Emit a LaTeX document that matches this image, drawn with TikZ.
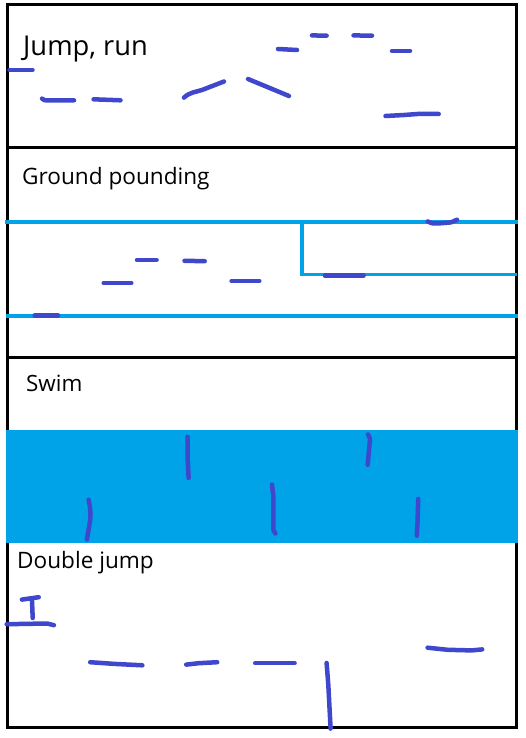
\documentclass[tikz,border=0pt]{standalone}
\usepackage{fontspec}
\setmainfont{Open Sans}
\definecolor{ink}{RGB}{63,72,204}
\definecolor{aqua}{RGB}{0,162,232}
\tikzset{
  pen/.style={draw=ink, line width=4.5pt, line cap=round, line join=round},
  wall/.style={draw=aqua, line width=3.3pt},
  frame/.style={draw=black, line width=3pt},
  lbl/.style={anchor=base west, inner sep=0pt, text=black},
}
\begin{document}
\begin{tikzpicture}[x=1pt,y=-1pt]
\useasboundingbox (0,0) rectangle (526,738);
% frame and dividers
\draw[frame] (7,5) rectangle (516,727);
\draw[frame] (7,148) -- (516,148);
\draw[frame] (7,357) -- (516,357);
% water
\fill[aqua] (5.8,429.5) rectangle (518,543);
% ground pounding walls
\draw[wall] (5,222) -- (518,222);
\draw[wall] (302,222) -- (302,274.5) -- (517,274.5);
\draw[wall] (6,316) -- (518,316);
% labels
\node[lbl, font=\fontsize{27.3}{30}\selectfont] (t1) at (23,56) {Jump, run};
\node[lbl, font=\fontsize{22.6}{25}\selectfont] (t2) at (22,185) {Ground pounding};
\node[lbl, font=\fontsize{22.4}{25}\selectfont] (t3) at (26,391) {Swim};
\node[lbl, font=\fontsize{22.6}{25}\selectfont] (t4) at (17,568.5) {Double jump};
% section 1 strokes
\draw[pen] (9.5,70) -- (32.5,70);
\draw[pen] (42,98.6) .. controls (44,100.3) .. (48,100.3) -- (74,100.3);
\draw[pen] (93.6,99.3) -- (120.5,100.3);
\draw[pen] (184,97.6) .. controls (190,92) and (196,92) .. (202,90) -- (224,81.5);
\draw[pen] (248,79) -- (289,96);
\draw[pen] (278,49) -- (297,50);
\draw[pen] (312,35.4) -- (326.6,35.7);
\draw[pen] (353.5,35.4) -- (372,35.7);
\draw[pen] (392,51) -- (410,51);
\draw[pen] (385.5,116) -- (404,115) -- (417.5,114) -- (438.7,114);
% section 2 strokes
\draw[pen] (34.7,315.4) -- (58,315.4);
\draw[pen] (103.7,283) -- (131.3,283);
\draw[pen] (137,259.8) -- (156.6,259.8);
\draw[pen] (184.5,260.8) -- (204.7,261.2);
\draw[pen] (231.6,281) -- (259.3,281);
\draw[pen] (325,275.6) -- (363.6,275.6);
\draw[pen] (427.6,221.4) .. controls (432,223.5) .. (437.7,223.5) -- (451,222.4) -- (457,219.7);
% section 3 strokes
\draw[pen] (187.5,436.8) -- (187.5,456) -- (188.6,477.9);
\draw[pen] (368,434.5) .. controls (370,438) .. (369.7,442.5) -- (367.7,464.8);
\draw[pen] (88.6,499.8) .. controls (90.5,510) .. (90.2,520) -- (86.9,539.5);
\draw[pen] (272,484.6) -- (273.4,496.4) -- (273.4,530) -- (275.4,533.5);
\draw[pen] (418.2,499) -- (417.5,523) -- (416.8,535.8);
% section 4 strokes
\draw[pen] (21.9,599.6) -- (38.7,597.2);
\draw[pen] (32,600.6) -- (32.7,618);
\draw[pen] (6.7,624.2) -- (47.1,623.5) -- (53.9,625.2);
\draw[pen] (90.2,662.2) -- (114.5,663.9) -- (142.4,665.3);
\draw[pen] (186.2,664.6) -- (198.7,663.2) -- (217.2,662.2);
\draw[pen] (255.2,663.2) -- (294.6,663.2);
\draw[pen] (326.6,662.9) -- (328.3,684.8) -- (330.6,728.6);
\draw[pen] (427.6,647.7) -- (447.8,649.8) -- (471.4,650.4) -- (482.2,649.4);
\end{tikzpicture}
\end{document}
